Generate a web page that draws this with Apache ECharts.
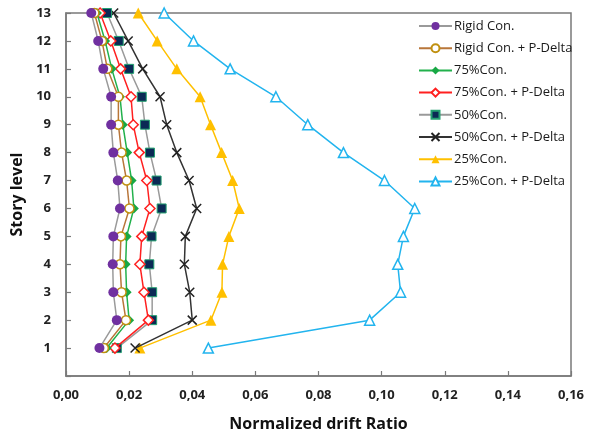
<!DOCTYPE html>
<html>
<head>
<meta charset="utf-8">
<script src="https://cdn.jsdelivr.net/npm/echarts@6/dist/echarts.min.js"></script>
<style>
html,body{margin:0;padding:0;background:#fff;}
#chart{width:594px;height:437px;}
</style>
</head>
<body>
<div id="chart"></div>
<script>
// Story levels 1..13
var levels = [1,2,3,4,5,6,7,8,9,10,11,12,13];
var seriesNames = ['Rigid Con.','Rigid Con. + P-Delta','75%Con.','75%Con. + P-Delta','50%Con.','50%Con. + P-Delta','25%Con.','25%Con. + P-Delta'];
var rigid   = [0.0106,0.0161,0.0150,0.0148,0.0150,0.0171,0.0164,0.0150,0.0143,0.0143,0.0118,0.0102,0.0080];
var rigidPD = [0.0120,0.0190,0.0176,0.0171,0.0174,0.0201,0.0192,0.0176,0.0166,0.0166,0.0131,0.0114,0.0090];
var c75     = [0.0129,0.0200,0.0192,0.0189,0.0192,0.0215,0.0208,0.0194,0.0180,0.0171,0.0145,0.0124,0.0098];
var c75PD   = [0.0155,0.0261,0.0247,0.0234,0.0240,0.0266,0.0256,0.0232,0.0213,0.0206,0.0173,0.0142,0.0108];
var c50     = [0.0161,0.0273,0.0273,0.0264,0.0271,0.0303,0.0287,0.0266,0.0250,0.0240,0.0200,0.0167,0.0130];
var c50PD   = [0.0219,0.0400,0.0392,0.0375,0.0378,0.0414,0.0390,0.0351,0.0319,0.0298,0.0243,0.0197,0.0151];
var c25     = [0.0234,0.0459,0.0494,0.0496,0.0516,0.0549,0.0528,0.0493,0.0458,0.0425,0.0351,0.0289,0.0229];
var c25PD   = [0.0451,0.0962,0.1060,0.1051,0.1069,0.1105,0.1009,0.0879,0.0766,0.0665,0.0520,0.0404,0.0311];
var xTicks = ['0,00','0,02','0,04','0,06','0,08','0,10','0,12','0,14','0,16'];

function pts(arr){ return arr.map(function(v,i){ return [v, levels[i]]; }); }

var styles = [
  {line:'#9a9a9a', symbol:'circle', size:10, fill:'#7030A0', border:'#7030A0', bw:0},
  {line:'#b8763a', symbol:'circle', size:9, fill:'#ffffff', border:'#c09010', bw:1.5},
  {line:'#22b14c', symbol:'diamond', size:10, fill:'#18a845', border:'#18a845', bw:0},
  {line:'#ff2020', symbol:'diamond', size:10, fill:'#ffffff', border:'#ff2020', bw:1.5},
  {line:'#9a9a9a', symbol:'rect', size:9, fill:'#0b2a55', border:'#23a070', bw:1},
  {line:'#333333', symbol:'path://M0,0L10,10M10,0L0,10', size:9, fill:'none', border:'#222222', bw:1.5},
  {line:'#ffc000', symbol:'triangle', size:11, fill:'#ffc000', border:'#ffc000', bw:0},
  {line:'#22b4ee', symbol:'triangle', size:10, fill:'#ffffff', border:'#22b4ee', bw:1.5}
];
var datas = [rigid, rigidPD, c75, c75PD, c50, c50PD, c25, c25PD];

var series = datas.map(function(d, i){
  var s = styles[i];
  return {
    name: seriesNames[i],
    type: 'line',
    data: pts(d),
    symbol: s.symbol,
    symbolSize: s.size,
    showAllSymbol: true,
    lineStyle: {color: s.line, width: 1.5},
    itemStyle: {color: s.fill, borderColor: s.border, borderWidth: s.bw},
    z: 2 + (7 - i)
  };
});

var chart = echarts.init(document.getElementById('chart'), null, {renderer:'canvas'});
chart.setOption({
  animation: false,
  backgroundColor: '#ffffff',
  grid: {left: 66, right: 23, top: 13, bottom: 58, show: true, borderColor: '#7a7a7a', borderWidth: 1.5},
  legend: {
    orient: 'vertical',
    left: 413, top: 14,
    itemWidth: 33, itemHeight: 10, itemGap: 8.2,
    data: seriesNames,
    textStyle: {fontFamily: 'Open Sans', fontSize: 13, color: '#1a1a1a', lineHeight: 14, padding: [0,0,0,-3]}
  },
  xAxis: {
    type: 'value', min: 0, max: 0.16, interval: 0.02,
    name: 'Normalized drift Ratio', nameLocation: 'middle', nameGap: 40,
    nameTextStyle: {fontFamily: 'Open Sans', fontWeight: 'bold', fontSize: 16, color: '#111'},
    axisLine: {show: true, lineStyle: {color: '#7a7a7a', width: 1.5}},
    axisTick: {show: true, inside: true, length: 5, lineStyle: {color: '#7a7a7a', width: 1.2}},
    splitLine: {show: false},
    axisLabel: {
      margin: 13, fontFamily: 'Open Sans', fontWeight: 'bold', fontSize: 13, color: '#222',
      formatter: function(v){ return xTicks[Math.round(v/0.02)]; }
    }
  },
  yAxis: {
    type: 'value', min: 0, max: 13, interval: 1,
    name: 'Story level', nameLocation: 'middle', nameGap: 30, nameRotate: 90,
    nameTextStyle: {fontFamily: 'Open Sans', fontWeight: 'bold', fontSize: 16, color: '#111'},
    axisLine: {show: true, lineStyle: {color: '#7a7a7a', width: 1.5}},
    axisTick: {show: true, inside: true, length: 5, lineStyle: {color: '#7a7a7a', width: 1.2}},
    splitLine: {show: false},
    axisLabel: {
      margin: 15, fontFamily: 'Open Sans', fontWeight: 'bold', fontSize: 13, color: '#222',
      formatter: function(v){ return v === 0 ? '' : String(v); }
    }
  },
  series: series
});
</script>
</body>
</html>
